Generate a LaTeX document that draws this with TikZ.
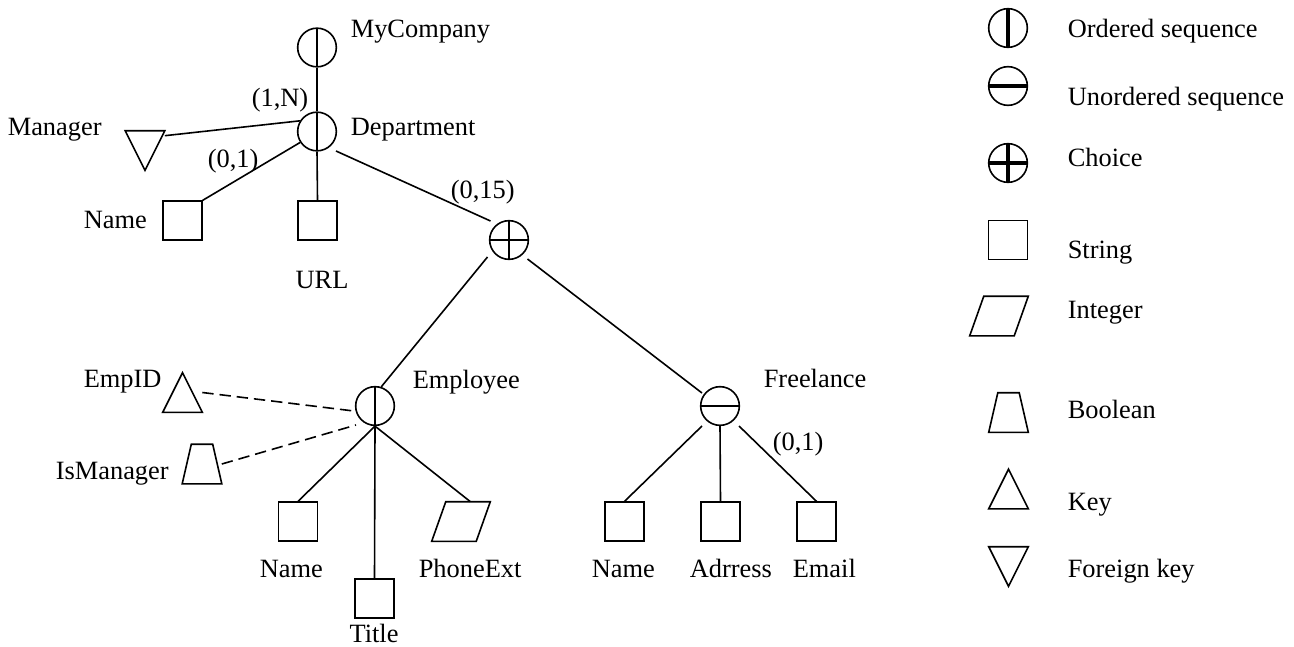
\documentclass[tikz,border=0pt]{standalone}
\usepackage{fontspec}
\setmainfont{Liberation Serif}
\usetikzlibrary{calc}

% outlines drawn over invisible, named bounding boxes
\newcommand\drawkeytri[1]{\draw (#1.south west) -- (#1.south east) -- (#1.north) -- cycle;}
\newcommand\drawfkeytri[1]{\draw (#1.north west) -- (#1.north east) -- (#1.south) -- cycle;}
\newcommand\drawintpar[1]{\draw (#1.south west) -- ($(#1.south west)!0.76!(#1.south east)$) -- (#1.north east) -- ($(#1.north west)!0.24!(#1.north east)$) -- cycle;}
\newcommand\drawbooltrap[1]{\draw (#1.south west) -- (#1.south east) -- ($(#1.north west)!0.77!(#1.north east)$) -- ($(#1.north west)!0.23!(#1.north east)$) -- cycle;}

\begin{document}
\begin{tikzpicture}[x=0.75pt,y=-0.75pt,line width=1.2pt,
  lbl/.style={font=\fontsize{19.8}{24}\selectfont, inner sep=0, anchor=base west},
  lblc/.style={lbl, anchor=base},
  grp/.style={circle, draw, minimum size=29pt, inner sep=0},
  seqord/.style={grp, path picture={\draw[line width=#1] (path picture bounding box.north) -- (path picture bounding box.south);}},
  seqord/.default=1.2pt,
  sequn/.style={grp, path picture={\draw[line width=#1] (path picture bounding box.west) -- (path picture bounding box.east);}},
  sequn/.default=1.2pt,
  choicegrp/.style={grp, path picture={\draw[line width=#1] (path picture bounding box.north) -- (path picture bounding box.south) (path picture bounding box.west) -- (path picture bounding box.east);}},
  choicegrp/.default=1.2pt,
  strbox/.style={draw, rectangle, minimum size=29pt, inner sep=0},
  glyph/.style={rectangle, inner sep=0, minimum width=28.5pt, minimum height=28.5pt},
  wideglyph/.style={glyph, minimum width=42.75pt},
  link/.style={line width=1.2pt},
  optlink/.style={link, dash pattern=on 8.5pt off 4.5pt},
]
\useasboundingbox (0,0) rectangle (1294,646);

% ---------- schema tree ----------
\node[seqord] (myco) at (317,47.5) {};
\node[seqord] (dept) at (317,131.5) {};
\node[choicegrp] (choice) at (509,240) {};
\node[seqord] (emp) at (375,406) {};
\node[sequn] (fl) at (720,406) {};

\node[glyph] (mgr) at (145,150.5) {};        \drawfkeytri{mgr}
\node[strbox] (dname) at (182.5,220.5) {};
\node[strbox] (url) at (317.5,220.5) {};

\node[glyph] (empid) at (182.5,392.5) {};     \drawkeytri{empid}
\node[glyph] (ismgr) at (202,464) {};         \drawbooltrap{ismgr}
\node[strbox] (ename) at (298,521.5) {};
\node[strbox] (title) at (374.5,598.5) {};
\node[wideglyph] (phone) at (461,521.5) {};   \drawintpar{phone}

\node[strbox] (fname) at (624.5,521.5) {};
\node[strbox] (faddr) at (720.5,521.5) {};
\node[strbox] (femail) at (816.5,521.5) {};

% connectors
\draw[link] (myco.south) -- (dept.north);
\draw[link] (dept.south) -- (url.north);
\draw[link] ($(mgr.north east)+(0,5)$) -- (dept.148);
\draw[link] (dname.north east) -- (dept.213);
\draw[link] ($(dept.center)+(19,19.5)$) -- ($(choice.center)+(-18.5,-19)$);
\draw[link] ($(choice.center)+(-21.5,17)$) -- (emp.72);
\draw[link] ($(choice.center)+(18.5,19)$) -- ($(fl.center)+(-18,-13)$);
\draw[optlink] (empid.east) -- (emp.195);
\draw[optlink] (ismgr.east) -- ($(emp.center)+(-19,19)$);
\draw[link] (emp.south) -- (ename.north);
\draw[link] (emp.south) -- (title.north);
\draw[link] (emp.south) -- ($(phone.north west)!0.66!(phone.north east)$);
\draw[link] ($(fl.center)+(-18,20)$) -- (fname.north);
\draw[link] (fl.south) -- (faddr.north);
\draw[link] ($(fl.center)+(19,20)$) -- (femail.north);

% names and cardinalities
\node[lbl] (tmyco) at (350,37) {MyCompany};
\node[lbl] (tdept) at (350,135) {Department};
\node[lbl] (tmgr) at (7,135) {Manager};
\node[lbl] (c1n) at (251,106) {(1,N)};
\node[lbl] (c01a) at (207,167) {(0,1)};
\node[lbl] (c015) at (450,198) {(0,15)};
\node[lbl] (tdname) at (83,228) {Name};
\node[lblc] (turl) at (322,288) {URL};
\node[lbl] (temp) at (412,388) {Employee};
\node[lbl] (tempid) at (83,387) {EmpID};
\node[lbl] (tismgr) at (55,479) {IsManager};
\node[lbl] (tename) at (259,577) {Name};
\node[lblc] (ttitle) at (374,642) {Title};
\node[lbl] (tphone) at (418,577) {PhoneExt};
\node[lbl] (tfl) at (763,387) {Freelance};
\node[lbl] (c01b) at (772,450) {(0,1)};
\node[lbl] (tfname) at (591,577) {Name};
\node[lbl] (tfaddr) at (689,577) {Adrress};
\node[lbl] (tfemail) at (792,577) {Email};

% ---------- legend ----------
\node[seqord=3pt] (lord) at (1008,28) {};
\node[sequn=3pt] (lun) at (1008,86) {};
\node[choicegrp=3pt] (lch) at (1008,163) {};
\node[strbox] (lstr) at (1008,240) {};
\node[wideglyph] (lint) at (999,316) {};     \drawintpar{lint}
\node[glyph] (lbool) at (1008.5,412.5) {};   \drawbooltrap{lbool}
\node[glyph] (lkey) at (1008.5,489) {};      \drawkeytri{lkey}
\node[glyph] (lfkey) at (1008.5,566.5) {};   \drawfkeytri{lfkey}

\node[lbl] (tlord) at (1067,37) {Ordered sequence};
\node[lbl] (tlun) at (1067,105) {Unordered sequence};
\node[lbl] (tlch) at (1067,166) {Choice};
\node[lbl] (tlstr) at (1067,258) {String};
\node[lbl] (tlint) at (1067,318) {Integer};
\node[lbl] (tlbool) at (1067,418) {Boolean};
\node[lbl] (tlkey) at (1067,510) {Key};
\node[lbl] (tlfkey) at (1067,577) {Foreign key};
\end{tikzpicture}
\end{document}
